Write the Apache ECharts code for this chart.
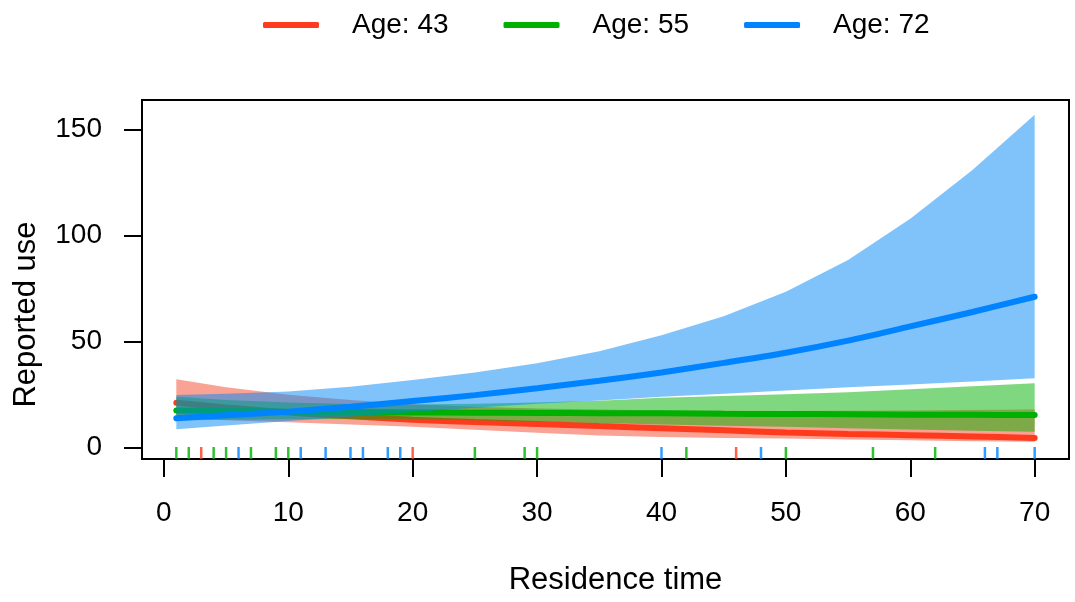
<!DOCTYPE html>
<html>
<head>
<meta charset="utf-8">
<script src="https://cdn.jsdelivr.net/npm/echarts@6/dist/echarts.min.js"></script>
<style>
  html, body { margin: 0; padding: 0; background: #fff; }
  #chart { width: 1075px; height: 602px; }
</style>
</head>
<body>
<div id="chart"></div>
<script>
// residence time points the curves were read at
var xs = [1, 5, 10, 15, 20, 25, 30, 35, 40, 45, 50, 55, 60, 65, 70]

// Age 43
var mid43 = [21.2, 19.0, 16.6, 14.8, 13.2, 12.1, 11.2, 10.2, 9.2, 8.2, 7.2, 6.5, 5.9, 5.3, 4.6]
var up43 = [32.3, 28.5, 25.0, 22.5, 20.5, 19.3, 18.5, 18.0, 17.6, 17.4, 17.3, 17.4, 17.6, 17.8, 18.0]
var lo43 = [14.0, 13.0, 12.0, 11.0, 9.9, 8.5, 7.0, 5.8, 5.0, 4.6, 4.3, 3.9, 3.5, 3.1, 2.8]

// Age 55
var mid55 = [17.5, 17.3, 17.0, 16.8, 16.6, 16.5, 16.4, 16.3, 16.2, 16.0, 15.9, 15.8, 15.6, 15.5, 15.4]
var up55 = [24.0, 22.5, 21.3, 20.6, 20.4, 20.7, 21.3, 22.2, 23.6, 24.4, 25.2, 26.2, 27.6, 29.0, 30.4]
var lo55 = [12.8, 13.2, 13.4, 13.5, 13.4, 12.9, 12.3, 11.6, 10.9, 10.4, 9.9, 9.2, 8.6, 8.0, 7.5]

// Age 72
var mid72 = [13.9, 15.3, 17.0, 19.3, 22.0, 24.8, 28.0, 31.6, 35.5, 40.0, 44.8, 50.5, 57.2, 64.0, 71.2]
var up72 = [24.9, 25.5, 26.5, 28.8, 31.9, 35.5, 39.8, 45.5, 53.0, 62.0, 73.5, 88.5, 108.0, 131.0, 157.0]
var lo72 = [8.7, 10.5, 12.6, 14.6, 16.8, 18.8, 20.7, 22.3, 24.0, 25.5, 27.0, 28.5, 29.8, 31.2, 32.7]

// rug marks (observed residence times)
var rug43 = [3, 20, 46]
var rug55 = [1, 2, 4, 5, 7, 9, 10, 25, 29, 30, 42, 50, 57, 62]
var rug72 = [6, 11, 13, 15, 16, 18, 19, 40, 48, 66, 67, 70]

var xTicks = [0, 10, 20, 30, 40, 50, 60, 70]
var yTicks = [0, 50, 100, 150]
var xMin = -1.76, xMax = 72.76
var yMin = -5.33, yMax = 164

var names = ['Age: 43', 'Age: 55', 'Age: 72']
var lineColors = ['#ff3b1e', '#00b000', '#0083ff']
var bandColors = ['rgba(245,70,40,0.5)', 'rgba(0,176,0,0.5)', 'rgba(0,135,245,0.5)']
var font = 'Liberation Sans, Arial, sans-serif'

function band(name, lo, hi, color, z) {
  return {
    type: 'custom',
    name: name,
    z: z,
    silent: true,
    data: xs.map(function (x, i) { return [x, lo[i], hi[i]] }),
    encode: { x: 0, y: [1, 2] },
    renderItem: function (params, api) {
      if (params.dataIndex !== 0) return null
      var pts = []
      for (var i = 0; i < xs.length; i++) pts.push(api.coord([xs[i], hi[i]]))
      for (var j = xs.length - 1; j >= 0; j--) pts.push(api.coord([xs[j], lo[j]]))
      return { type: 'polygon', shape: { points: pts }, style: { fill: color } }
    }
  }
}

function line(name, mid, color, z) {
  return {
    type: 'line',
    name: name,
    z: z,
    data: xs.map(function (x, i) { return [x, mid[i]] }),
    smooth: 0.3,
    showSymbol: false,
    itemStyle: { color: color },
    lineStyle: { color: color, width: 6, cap: 'round' }
  }
}

function rug(name, vals, color) {
  return {
    type: 'scatter',
    name: name,
    z: 10,
    silent: true,
    data: vals.map(function (x) { return [x, yMin] }),
    symbol: 'rect',
    symbolSize: [2.5, 12],
    symbolOffset: [0, -6],
    itemStyle: { color: color }
  }
}

var option = {
  animation: false,
  backgroundColor: '#fff',
  legend: {
    data: names,
    top: 6,
    left: 258,
    icon: 'roundRect',
    itemWidth: 56,
    itemHeight: 6,
    itemGap: 55,
    textStyle: { fontFamily: font, fontSize: 28, color: '#000', padding: [0, 0, 0, 28] }
  },
  grid: {
    left: 142,
    right: 6,
    top: 100,
    bottom: 143,
    outerBoundsMode: 'none',
    containLabel: false,
    show: true,
    borderColor: '#000',
    borderWidth: 2
  },
  xAxis: {
    type: 'value',
    min: xMin,
    max: xMax,
    name: 'Residence time',
    nameLocation: 'middle',
    nameGap: 106,
    nameTextStyle: { fontFamily: font, fontSize: 31, color: '#000', padding: [0, 0, 0, 20] },
    axisLine: { show: false, onZero: false },
    splitLine: { show: false },
    axisTick: { show: true, length: 18, customValues: xTicks, lineStyle: { color: '#000', width: 2 } },
    axisLabel: { customValues: xTicks, margin: 40, fontFamily: font, fontSize: 28, color: '#000' }
  },
  yAxis: {
    type: 'value',
    min: yMin,
    max: yMax,
    name: 'Reported use',
    nameLocation: 'middle',
    nameRotate: 90,
    nameGap: 100,
    nameTextStyle: { fontFamily: font, fontSize: 31, color: '#000', padding: [0, 70, 0, 0] },
    axisLine: { show: false, onZero: false },
    splitLine: { show: false },
    axisTick: { show: true, length: 18, customValues: yTicks, lineStyle: { color: '#000', width: 2 } },
    axisLabel: { customValues: yTicks, margin: 40, fontFamily: font, fontSize: 28, color: '#000' }
  },
  series: [
    band('band43', lo43, up43, bandColors[0], 2),
    line(names[0], mid43, lineColors[0], 3),
    band('band55', lo55, up55, bandColors[1], 4),
    line(names[1], mid55, lineColors[1], 5),
    band('band72', lo72, up72, bandColors[2], 6),
    line(names[2], mid72, lineColors[2], 7),
    rug('rug43', rug43, lineColors[0]),
    rug('rug55', rug55, lineColors[1]),
    rug('rug72', rug72, lineColors[2])
  ]
}

var chart = echarts.init(document.getElementById('chart'))
chart.setOption(option)
window.addEventListener('resize', function () {
  chart.resize()
})
</script>
</body>
</html>
